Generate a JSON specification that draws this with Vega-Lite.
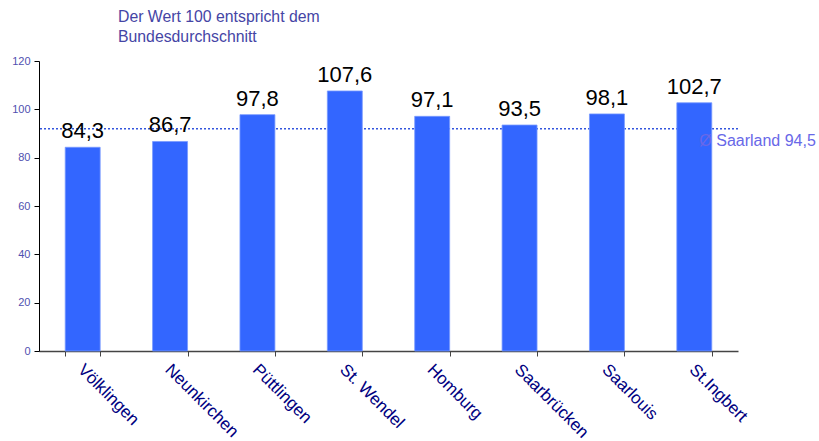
{
  "$schema": "https://vega.github.io/schema/vega-lite/v6.json",
  "autosize": "none",
  "padding": {"left": 39, "top": 61, "right": 81, "bottom": 90},
  "width": 699,
  "height": 290,
  "config": {
    "font": "Liberation Sans",
    "view": {"stroke": null},
    "locale": {"number": {"decimal": ",", "thousands": ".", "grouping": [3], "currency": ["", " €"]}}
  },
  "title": {
    "text": ["Der Wert 100 entspricht dem", "Bundesdurchschnitt"],
    "anchor": "start",
    "frame": "group",
    "dx": 79,
    "offset": 9,
    "fontSize": 15.8,
    "fontWeight": "normal",
    "lineHeight": 20,
    "color": "#4545a5"
  },
  "datasets": {
    "bars": [
      {"kreis": "Völklingen", "wert": 84.3},
      {"kreis": "Neunkirchen", "wert": 86.7},
      {"kreis": "Püttlingen", "wert": 97.8},
      {"kreis": "St. Wendel", "wert": 107.6},
      {"kreis": "Homburg", "wert": 97.1},
      {"kreis": "Saarbrücken", "wert": 93.5},
      {"kreis": "Saarlouis", "wert": 98.1},
      {"kreis": "St.Ingbert", "wert": 102.7}
    ],
    "avg": [
      {"kreis": "St.Ingbert", "linie": 92, "label": "Ø Saarland 94,5"}
    ]
  },
  "layer": [
    {
      "data": {"name": "avg"},
      "mark": {"type": "rule", "color": "#3355dd", "strokeDash": [2, 2], "strokeWidth": 1.5},
      "encoding": {"y": {"field": "linie", "type": "quantitative", "scale": {"domain": [0, 120]}}}
    },
    {
      "data": {"name": "bars"},
      "mark": {"type": "bar", "color": "#3366ff", "stroke": "#7799ff", "strokeWidth": 0.8},
      "encoding": {
        "x": {
          "field": "kreis", "type": "nominal", "sort": null,
          "scale": {"paddingInner": 0.6, "paddingOuter": 0.3},
          "axis": {
            "title": null, "labelAngle": 45, "labelAlign": "left", "labelBaseline": "top",
            "labelFontSize": 17, "labelColor": "#000080", "labelPadding": 5, "labelOffset": 3,
            "tickBand": "extent", "tickColor": "#444444", "tickSize": 5,
            "domainColor": "#444444", "domainWidth": 1.5
          }
        },
        "y": {
          "field": "wert", "type": "quantitative",
          "scale": {"domain": [0, 120]},
          "axis": {
            "title": null, "values": [0, 20, 40, 60, 80, 100, 120], "grid": false,
            "labelFontSize": 11, "labelColor": "#5050b0", "labelPadding": 4,
            "tickColor": "#000000", "tickSize": 5, "domainColor": "#000000"
          }
        }
      }
    },
    {
      "data": {"name": "bars"},
      "mark": {"type": "text", "baseline": "bottom", "dy": -4, "fontSize": 22, "color": "#000000"},
      "encoding": {
        "x": {"field": "kreis", "type": "nominal", "sort": null},
        "y": {"field": "wert", "type": "quantitative"},
        "text": {"field": "wert", "type": "quantitative", "format": ".1f"}
      }
    },
    {
      "data": {"name": "avg"},
      "mark": {"type": "text", "align": "left", "baseline": "middle", "dx": 5, "dy": 12, "fontSize": 16, "color": "#6868e8"},
      "encoding": {
        "x": {"field": "kreis", "type": "nominal", "sort": null},
        "y": {"field": "linie", "type": "quantitative"},
        "text": {"field": "label"}
      }
    }
  ]
}
